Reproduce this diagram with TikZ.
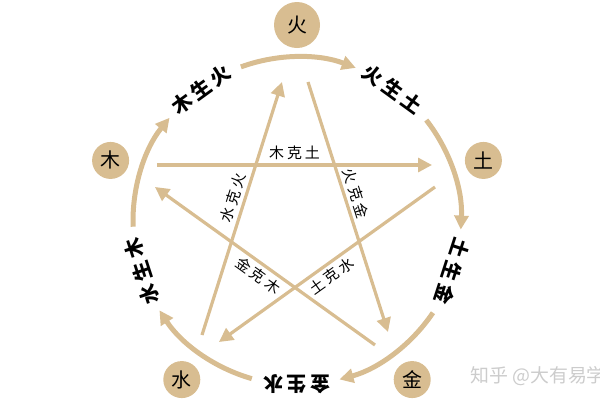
\documentclass[tikz,border=0pt]{standalone}
\usepackage{fontspec}
\setmainfont{Noto Sans CJK SC}
\newfontfamily\wide{Noto Sans CJK SC}[LetterSpace=20]
\usetikzlibrary{arrows.meta}
\definecolor{wx}{RGB}{216,189,145}
\tikzstyle{E} = [circle,fill=wx,inner sep=0pt,minimum size=37bp,font=\fontsize{20}{20}\selectfont]
\tikzstyle{F} = [E,minimum size=46bp]
\tikzstyle{S} = [draw=wx,line width=5bp,->]
\tikzstyle{K} = [draw=wx,line width=3.2bp,->]
\tikzstyle{L} = [font=\wide\bfseries\fontsize{20}{20}\selectfont]
\tikzstyle{M} = [font=\wide\fontsize{15}{15}\selectfont,sloped]
\tikzstyle{W} = [text=black!20,inner sep=0pt,font=\fontsize{19}{19}\selectfont]
\tikzset{>={Triangle[length=14bp,width=14bp]}}

\begin{document}
\begin{tikzpicture}[x=1bp,y=1bp]
  \clip (-297,-179) rectangle (303,221);
  \node [F] (n1) at (90:196) {火};
  \node [E] (n2) at (18:196) {土};
  \node [E] (n3) at (-54:196) {金};
  \node [E] (n4) at (-126:196) {水};
  \node [E] (n5) at (162:196) {木};

  % sheng circle
  \draw [S] (110:164) arc [start angle=110, end angle=69, radius=164bp];
  \draw [S] (38:164) arc [start angle=38, end angle=-3, radius=164bp];
  \draw [S] (-34:164) arc [start angle=-34, end angle=-75, radius=164bp];
  \draw [S] (-106:164) arc [start angle=-106, end angle=-147, radius=164bp];
  \draw [S] (-178:164) arc [start angle=-178, end angle=-219, radius=164bp];
  \node [L,rotate=-36] (l1) at (54:163) {火生土};
  \node [L,rotate=-108] (l2) at (-18:163) {土生金};
  \node [L,rotate=-180] (l3) at (-90:163) {金生水};
  \node [L,rotate=108] (l4) at (-162:163) {水生木};
  \node [L,rotate=36] (l5) at (126:163) {木生火};

  % ke star
  \coordinate (c1) at (-15,139);
  \coordinate (c2) at (11,139);
  \coordinate (c3) at (135,56);
  \coordinate (c4) at (138,34);
  \coordinate (c5) at (91,-111);
  \coordinate (c6) at (78,-124);
  \coordinate (c7) at (-78,-121);
  \coordinate (c8) at (-95,-114);
  \coordinate (c9) at (-142,34);
  \coordinate (c10) at (-140,56);
  \draw [K] (c8) -- (c1) node [M,pos=0.53,above] {水克火};
  \draw [K] (c2) -- (c5) node [M,pos=0.46,above] {火克金};
  \draw [K] (c10) -- (c3) node [M,midway,above] {木克土};
  \draw [K] (c4) -- (c7) node [M,pos=0.51,below] {土克水};
  \draw [K] (c6) -- (c9) node [M,midway,below] {金克木};

  \node [W,anchor=west] (w) at (173,-155) {知乎 @大有易学};
\end{tikzpicture}
\end{document}
